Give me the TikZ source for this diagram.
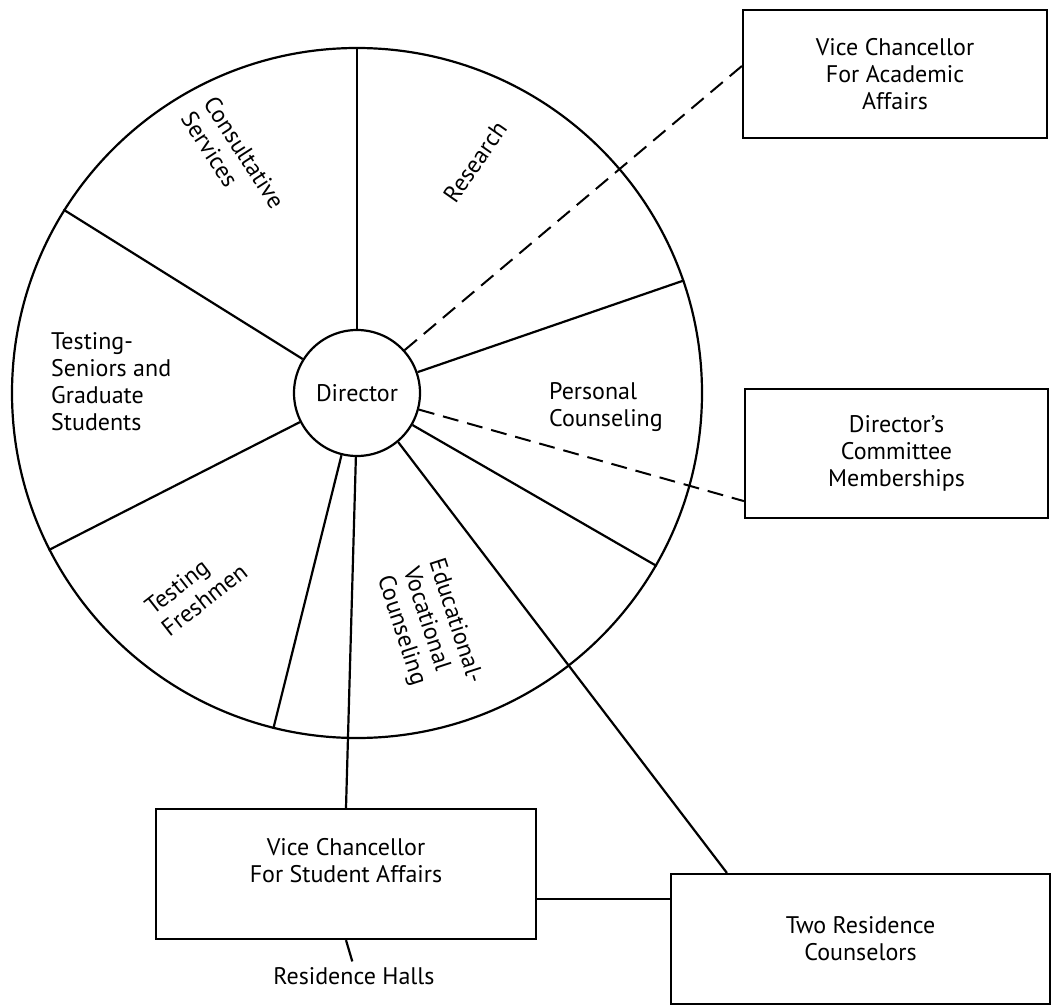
\documentclass[tikz,border=0pt]{standalone}
\usepackage{fontspec}
\setmainfont{PT Sans}
\usetikzlibrary{calc}
\begin{document}
\begin{tikzpicture}[x=1pt,y=-1pt,
  ln/.style={line width=2.2pt},
  dsh/.style={line width=2pt, dash pattern=on 16pt off 9pt},
  txt/.style={font=\fontsize{24}{27}\selectfont},
  lbl/.style={txt, inner sep=0pt},
  box/.style={txt, draw, line width=2.2pt, align=center, inner sep=0pt},
  ring/.style={circle, draw, line width=2.2pt, inner sep=0pt},
]
\useasboundingbox (0,0) rectangle (1052,1008);

% the wheel and its hub
\node[ring, minimum size=690pt] (wheel) at (357,393) {};
\node[ring, txt, minimum size=126pt] (dir) at (357,393) {Director};

% outside offices
\node[box, minimum width=304pt, minimum height=128pt] (vca) at (895,74)
  {Vice Chancellor\\For Academic\\Affairs};
\node[box, minimum width=303pt, minimum height=129pt] (dc) at (896.5,453.5)
  {Director's\\Committee\\Memberships};
\node[box, minimum width=380pt, minimum height=130pt, text depth=27pt] (vcs) at (346,874)
  {Vice Chancellor\\For Student Affairs};
\node[box, minimum width=379pt, minimum height=130pt] (tr) at (860.5,939)
  {Two Residence\\Counselors};
\node[lbl] (halls) at (354,976) {Residence Halls};

% spokes dividing the wheel
\foreach \a in {90.5,148,207,256,330,19}
  \draw[ln] (dir.\a) -- (wheel.\a);

% lines to the outside offices
\draw[ln] (dir.269) -- (vcs.north);
\coordinate (trIn) at ($(tr.north west)+(57,0)$);
\draw[ln] (dir.310) -- (trIn);
\draw[dsh] (dir.42) -- ($(vca.west)+(0,-8)$);
\draw[dsh] (dir.345) -- ($(dc.south west)+(0,-18)$);
\coordinate (link) at ($(vcs.east)+(0,25)$);
\draw[ln] (link) -- (link -| tr.west);
\draw[ln, shorten >=6pt] (vcs.south) -- (halls.north);

% sector labels
\node[lbl, rotate=-57, align=left] (cons) at (233,160) {Consultative\\Services};
\node[lbl, rotate=55] (res) at (475,162) {Research};
\node[lbl, align=left, anchor=west] (tsg) at (51,382)
  {Testing-\\Seniors and\\Graduate\\Students};
\node[lbl, align=left, anchor=west] (pc) at (549,407) {Personal\\Counseling};
\node[lbl, rotate=38, align=left] (tf) at (196,589) {Testing\\Freshmen};
\node[lbl, rotate=-72, align=left] (evc) at (429,630)
  {Educational-\\Vocational\\Counseling};
\end{tikzpicture}
\end{document}
